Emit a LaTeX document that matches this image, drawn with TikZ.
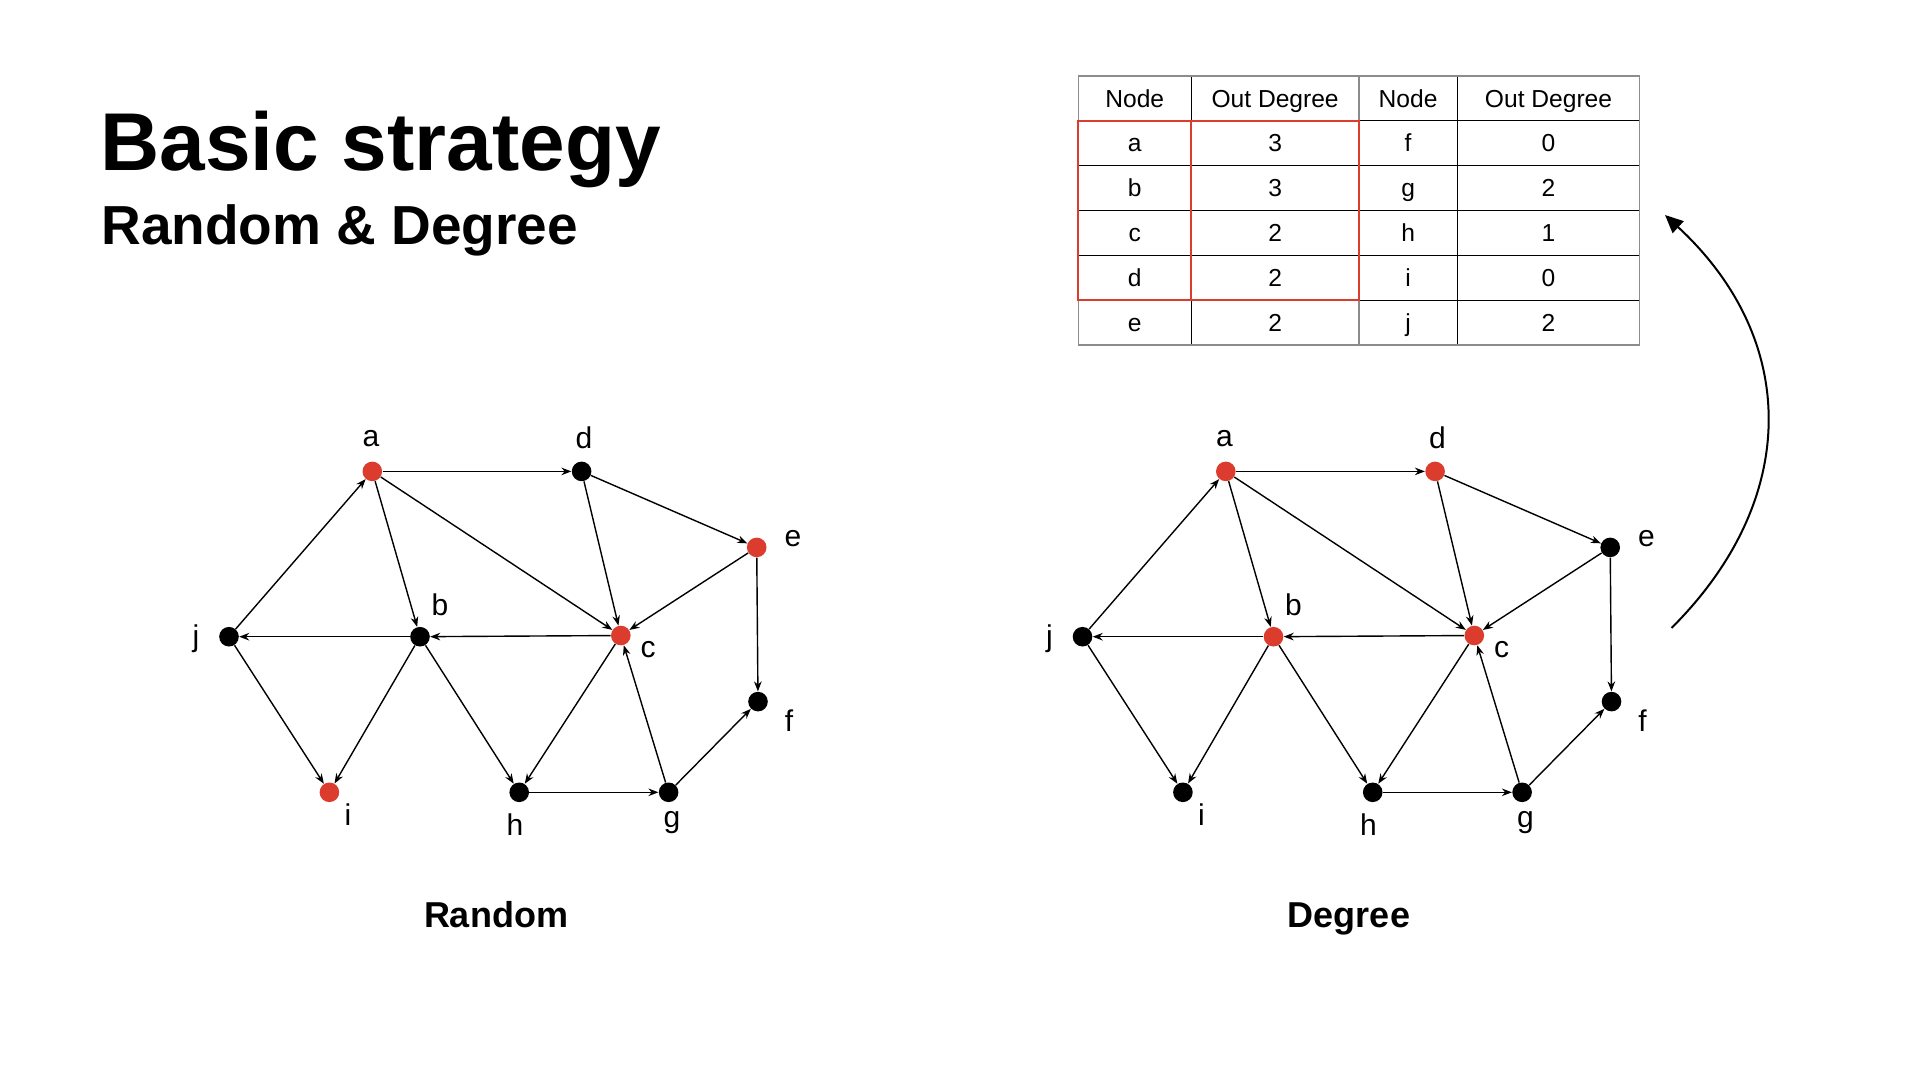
\documentclass[tikz,border=0pt]{standalone}
\usepackage{fontspec}
\setmainfont{Liberation Sans}
\usetikzlibrary{arrows.meta}
\definecolor{nodered}{RGB}{220,60,45}
\definecolor{tblgray}{RGB}{140,140,140}
\tikzset{
  dot/.style={circle,fill=black,inner sep=0pt,minimum size=9.8pt},
  reddot/.style={dot,fill=nodered},
  lbl/.style={font=\fontsize{15}{17}\selectfont,inner sep=0pt},
  edge/.style={-{Stealth[length=5pt,width=3.8pt]},line width=0.7pt},
  cell/.style={font=\fontsize{12.3}{14}\selectfont,inner sep=0pt,text height=8.8pt,text depth=0pt},
  inner/.style={line width=0.6pt,black},
  outer/.style={line width=0.6pt,tblgray},
  redbox/.style={line width=0.9pt,nodered},
  caption/.style={font=\bfseries\fontsize{18}{20}\selectfont,inner sep=0pt,anchor=base},
}
\newcommand{\mygraph}[8]{%
\begin{scope}[shift={(#2,0)}]
\node[#3] (#1a) at (372.3,471.4) {};
\node[#4] (#1b) at (420.0,636.7) {};
\node[#5] (#1c) at (620.8,635.5) {};
\node[#6] (#1d) at (581.6,471.4) {};
\node[#7] (#1e) at (756.7,547.4) {};
\node[dot] (#1f) at (758.0,701.6) {};
\node[dot] (#1g) at (668.6,792.3) {};
\node[dot] (#1h) at (519.2,792.3) {};
\node[#8] (#1i) at (329.4,792.3) {};
\node[dot] (#1j) at (229.0,636.7) {};
\node[lbl] (#1la) at (371,439) {a};
\node[lbl] (#1lb) at (440,605) {b};
\node[lbl] (#1lc) at (648,650) {c};
\node[lbl] (#1ld) at (584,438) {d};
\node[lbl] (#1le) at (793,539) {e};
\node[lbl] (#1lf) at (789,721) {f};
\node[lbl] (#1lg) at (672,823) {g};
\node[lbl] (#1lh) at (515,825) {h};
\node[lbl] (#1li) at (348,815) {i};
\node[lbl] (#1lj) at (196,639) {j};
\end{scope}
\draw[edge] (#1a) -- (#1d);
\draw[edge] (#1a) -- (#1b);
\draw[edge] (#1a) -- (#1c);
\draw[edge] (#1d) -- (#1c);
\draw[edge] (#1d) -- (#1e);
\draw[edge] (#1e) -- (#1c);
\draw[edge] (#1e) -- (#1f);
\draw[edge] (#1c) -- (#1b);
\draw[edge] (#1b) -- (#1j);
\draw[edge] (#1j) -- (#1a);
\draw[edge] (#1j) -- (#1i);
\draw[edge] (#1b) -- (#1i);
\draw[edge] (#1b) -- (#1h);
\draw[edge] (#1c) -- (#1h);
\draw[edge] (#1h) -- (#1g);
\draw[edge] (#1g) -- (#1c);
\draw[edge] (#1g) -- (#1f);
}
\begin{document}
\begin{tikzpicture}[x=0.5pt,y=-0.5pt]
\useasboundingbox[fill=white] (0,0) rectangle (1920,1080);

% titles
\node[anchor=base west,inner sep=0pt,font=\bfseries\fontsize{41}{45}\selectfont] (title) at (100,171) {Basic strategy};
\node[anchor=base west,inner sep=0pt,font=\bfseries\fontsize{27.5}{31}\selectfont] (subtitle) at (101,245) {Random \& Degree};

% graphs
\mygraph{R}{0}{reddot}{dot}{reddot}{dot}{reddot}{reddot}
\mygraph{D}{853.5}{reddot}{reddot}{reddot}{reddot}{dot}{dot}

\node[caption] (capR) at (496,927) {Random};
\node[caption] (capD) at (1349,927) {Degree};

% table grid
\foreach \y in {120.7,165.7,210.7,255.3,300.3}
  \draw[inner] (1078.1,\y) -- (1639.7,\y);
\draw[inner] (1191.3,76) -- (1191.3,345);
\draw[inner] (1457.3,76) -- (1457.3,345);
\draw[outer] (1358.9,76) -- (1358.9,345);
\draw[outer] (1078.1,76) rectangle (1639.7,345);
\draw[redbox] (1078.1,120.7) rectangle (1358.9,300.3);
\draw[redbox] (1191.3,120.7) -- (1191.3,300.3);

\node[cell] (h1) at (1134.7,98.3) {Node};
\node[cell] (h2) at (1275.1,98.3) {Out Degree};
\node[cell] (h3) at (1408.1,98.3) {Node};
\node[cell] (h4) at (1548.5,98.3) {Out Degree};
\node[cell] (ta) at (1134.7,143.2) {a};
\node[cell] (tb) at (1134.7,188.2) {b};
\node[cell] (tc) at (1134.7,233.0) {c};
\node[cell] (td) at (1134.7,277.8) {d};
\node[cell] (te) at (1134.7,322.6) {e};
\node[cell] (va) at (1275.1,143.2) {3};
\node[cell] (vb) at (1275.1,188.2) {3};
\node[cell] (vc) at (1275.1,233.0) {2};
\node[cell] (vd) at (1275.1,277.8) {2};
\node[cell] (ve) at (1275.1,322.6) {2};
\node[cell] (tf) at (1408.1,143.2) {f};
\node[cell] (tg) at (1408.1,188.2) {g};
\node[cell] (th) at (1408.1,233.0) {h};
\node[cell] (ti) at (1408.1,277.8) {i};
\node[cell] (tj) at (1408.1,322.6) {j};
\node[cell] (vf) at (1548.5,143.2) {0};
\node[cell] (vg) at (1548.5,188.2) {2};
\node[cell] (vh) at (1548.5,233.0) {1};
\node[cell] (vi) at (1548.5,277.8) {0};
\node[cell] (vj) at (1548.5,322.6) {2};

% curved arrow
\coordinate (cs) at (1671.5,628);
\coordinate (ce) at (1665,215);
\draw[line width=1pt,-{Triangle[length=9pt,width=8pt]}] (cs) .. controls (1800,500) and (1800,340) .. (ce);
\end{tikzpicture}
\end{document}
